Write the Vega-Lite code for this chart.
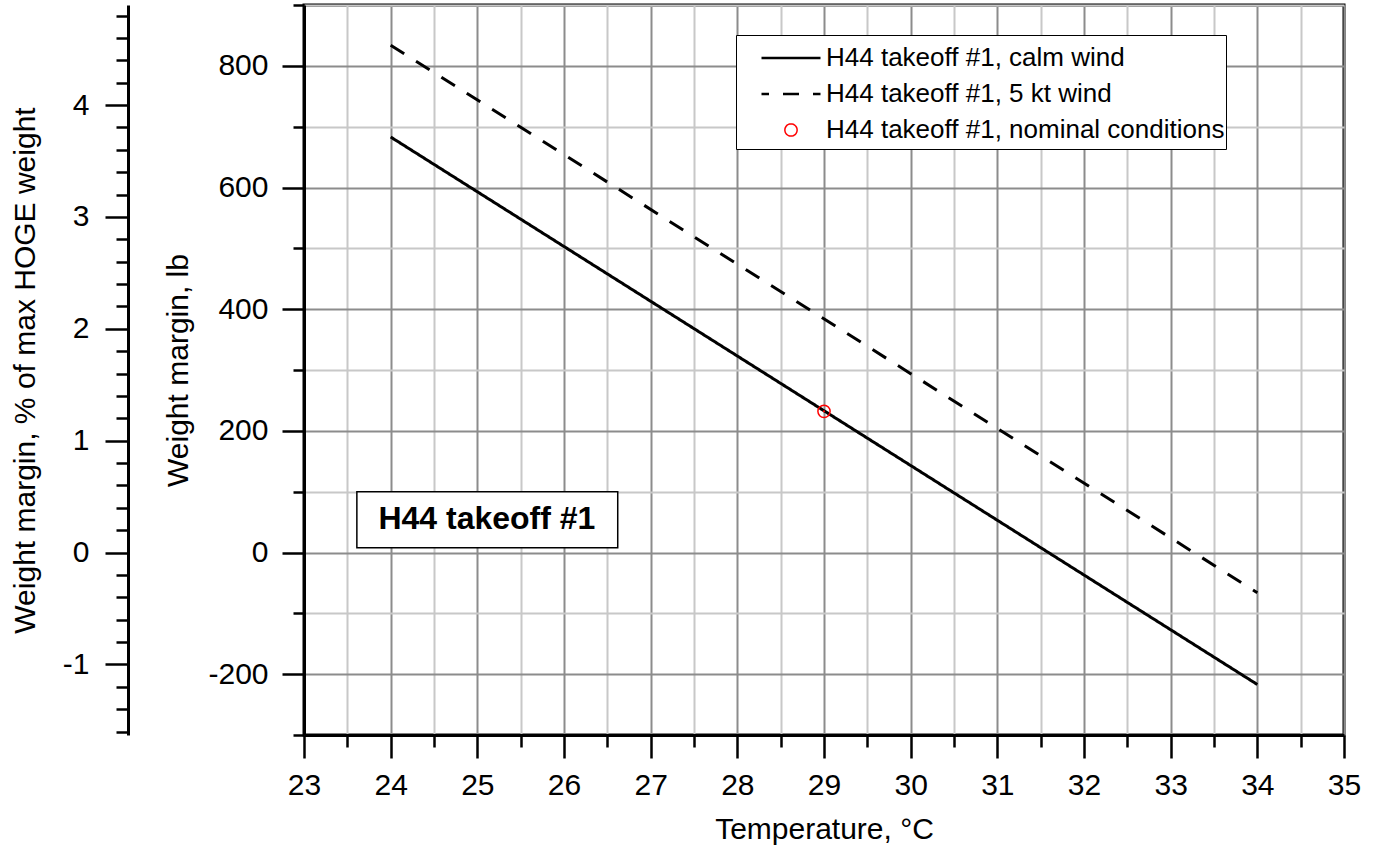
{
  "$schema": "https://vega.github.io/schema/vega-lite/v6.json",
  "width": 1040,
  "height": 730,
  "autosize": {"type": "none"},
  "padding": {"left": 304, "top": 5, "right": 33, "bottom": 117},
  "background": "white",
  "config": {
    "font": "Liberation Sans",
    "view": {"stroke": "black", "strokeWidth": 3},
    "axis": {
      "labelFont": "Liberation Sans",
      "titleFont": "Liberation Sans",
      "labelFontSize": 30,
      "titleFontSize": 30,
      "labelColor": "black",
      "titleColor": "black",
      "titleFontWeight": "normal",
      "domainColor": "black",
      "tickColor": "black",
      "domainWidth": 3,
      "tickWidth": 2.5,
      "labelOverlap": false,
      "labelFlush": false
    }
  },
  "datasets": {
    "lines": [
      {"temperature": 24, "margin": 683, "series": "H44 takeoff #1, calm wind"},
      {"temperature": 34, "margin": -217, "series": "H44 takeoff #1, calm wind"},
      {"temperature": 24, "margin": 834, "series": "H44 takeoff #1, 5 kt wind"},
      {"temperature": 34, "margin": -66, "series": "H44 takeoff #1, 5 kt wind"}
    ],
    "nominal": [
      {"temperature": 29, "margin": 232, "pct": 1.26, "series": "H44 takeoff #1, nominal conditions"}
    ],
    "annotation": [
      {"x1": 23.61, "x2": 26.62, "y1": 100, "y2": 8, "xc": 25.11, "yc": 55, "label": "H44 takeoff #1"}
    ]
  },
  "layer": [
    {
      "layer": [
        {
          "data": {"name": "lines"},
          "mark": {"type": "line", "strokeWidth": 3},
          "encoding": {
            "x": {
              "field": "temperature",
              "type": "quantitative",
              "scale": {"domain": [23, 35], "nice": false, "zero": false},
              "axis": {
                "title": "Temperature, °C",
                "values": [23, 23.5, 24, 24.5, 25, 25.5, 26, 26.5, 27, 27.5, 28, 28.5, 29, 29.5, 30, 30.5, 31, 31.5, 32, 32.5, 33, 33.5, 34, 34.5, 35],
                "labelExpr": "datum.value % 1 === 0 ? '' + datum.value : ''",
                "tickSize": {"condition": {"test": "datum.value % 1 === 0", "value": 23}, "value": 12},
                "labelPadding": 12,
                "grid": true,
                "gridColor": {"condition": {"test": "datum.value % 1 === 0", "value": "#8c8c8c"}, "value": "#c8c8c8"},
                "gridWidth": 2,
                "gridOpacity": 1,
                "titleY": 94,
                "titleBaseline": "middle"
              }
            },
            "y": {
              "field": "margin",
              "type": "quantitative",
              "scale": {"domain": [-300, 900], "nice": false, "zero": false},
              "axis": {
                "title": "Weight margin, lb",
                "values": [-300, -250, -200, -150, -100, -50, 0, 50, 100, 150, 200, 250, 300, 350, 400, 450, 500, 550, 600, 650, 700, 750, 800, 850, 900],
                "labelExpr": "datum.value % 200 === 0 ? '' + datum.value : ''",
                "tickSize": {"condition": {"test": "datum.value % 200 === 0", "value": 22}, "value": 11},
                "labelPadding": 14,
                "grid": true,
                "gridColor": {"condition": {"test": "datum.value % 200 === 0", "value": "#8c8c8c"}, "value": "#c8c8c8"},
                "gridWidth": 2,
                "gridOpacity": 1,
                "titleX": -126,
                "titleBaseline": "middle"
              }
            },
            "color": {
              "field": "series",
              "type": "nominal",
              "scale": {
                "domain": ["H44 takeoff #1, calm wind", "H44 takeoff #1, 5 kt wind", "H44 takeoff #1, nominal conditions"],
                "range": ["black", "black", "red"]
              },
              "legend": {
                "title": " ",
                "titleFontSize": 1,
                "titlePadding": 3,
                "orient": "none",
                "legendX": 432,
                "legendY": 30,
                "labelFont": "Liberation Sans",
                "labelFontSize": 26,
                "labelColor": "black",
                "labelLimit": 700,
                "symbolType": "stroke",
                "symbolSize": 3481,
                "symbolStrokeWidth": 2.5,
                "symbolDashOffset": 8.5,
                "clipHeight": 36,
                "rowPadding": 0,
                "padding": 1,
                "symbolOffset": 23,
                "labelOffset": 4,
                "strokeColor": "black",
                "fillColor": "white"
              }
            },
            "strokeDash": {
              "field": "series",
              "type": "nominal",
              "scale": {
                "domain": ["H44 takeoff #1, calm wind", "H44 takeoff #1, 5 kt wind", "H44 takeoff #1, nominal conditions"],
                "range": [[1, 0], [16, 14], [1, 0]]
              }
            }
          }
        },
        {
          "data": {"name": "nominal"},
          "mark": {"type": "point", "filled": false, "opacity": 1},
          "encoding": {
            "x": {"field": "temperature", "type": "quantitative"},
            "y": {"field": "margin", "type": "quantitative"},
            "color": {"field": "series", "type": "nominal"},
            "shape": {
              "field": "series",
              "type": "nominal",
              "scale": {
                "domain": ["H44 takeoff #1, calm wind", "H44 takeoff #1, 5 kt wind", "H44 takeoff #1, nominal conditions"],
                "range": ["stroke", "stroke", "circle"]
              }
            },
            "size": {
              "field": "series",
              "type": "nominal",
              "scale": {
                "type": "ordinal",
                "domain": ["H44 takeoff #1, calm wind", "H44 takeoff #1, 5 kt wind", "H44 takeoff #1, nominal conditions"],
                "range": [3481, 3481, 150]
              }
            },
            "strokeWidth": {
              "field": "series",
              "type": "nominal",
              "scale": {
                "type": "ordinal",
                "domain": ["H44 takeoff #1, calm wind", "H44 takeoff #1, 5 kt wind", "H44 takeoff #1, nominal conditions"],
                "range": [2.5, 2.5, 1.5]
              }
            }
          }
        },
        {
          "data": {"name": "nominal"},
          "mark": {"type": "point", "shape": "circle", "filled": true, "size": 5, "color": "red", "opacity": 1},
          "encoding": {
            "x": {"field": "temperature", "type": "quantitative"},
            "y": {"field": "margin", "type": "quantitative"}
          }
        },
        {
          "data": {"name": "annotation"},
          "mark": {"type": "rect", "fill": "white", "stroke": "black", "strokeWidth": 1.5},
          "encoding": {
            "x": {"field": "x1", "type": "quantitative"},
            "x2": {"field": "x2"},
            "y": {"field": "y1", "type": "quantitative"},
            "y2": {"field": "y2"}
          }
        },
        {
          "data": {"name": "annotation"},
          "mark": {"type": "text", "font": "Liberation Sans", "fontSize": 32, "fontWeight": "bold", "color": "black", "align": "center", "baseline": "middle"},
          "encoding": {
            "x": {"field": "xc", "type": "quantitative"},
            "y": {"field": "yc", "type": "quantitative"},
            "text": {"field": "label"}
          }
        }
      ]
    },
    {
      "data": {"name": "nominal"},
      "mark": {"type": "point", "opacity": 0},
      "encoding": {
        "y": {
          "field": "pct",
          "type": "quantitative",
          "scale": {"domain": [-1.631, 4.894], "nice": false, "zero": false},
          "axis": {
            "orient": "left",
            "offset": 176,
            "title": "Weight margin, % of max HOGE weight",
            "values": [-1.6, -1.4, -1.2, -1, -0.8, -0.6, -0.4, -0.2, 0, 0.2, 0.4, 0.6, 0.8, 1, 1.2, 1.4, 1.6, 1.8, 2, 2.2, 2.4, 2.6, 2.8, 3, 3.2, 3.4, 3.6, 3.8, 4, 4.2, 4.4, 4.6, 4.8],
            "labelExpr": "abs(datum.value - round(datum.value)) < 0.01 ? '' + round(datum.value) : ''",
            "tickSize": {"condition": {"test": "abs(datum.value - round(datum.value)) < 0.01", "value": 23}, "value": 12},
            "labelPadding": 16,
            "grid": false,
            "titleX": -103,
            "titleBaseline": "middle"
          }
        }
      }
    }
  ],
  "resolve": {"scale": {"y": "independent"}}
}
